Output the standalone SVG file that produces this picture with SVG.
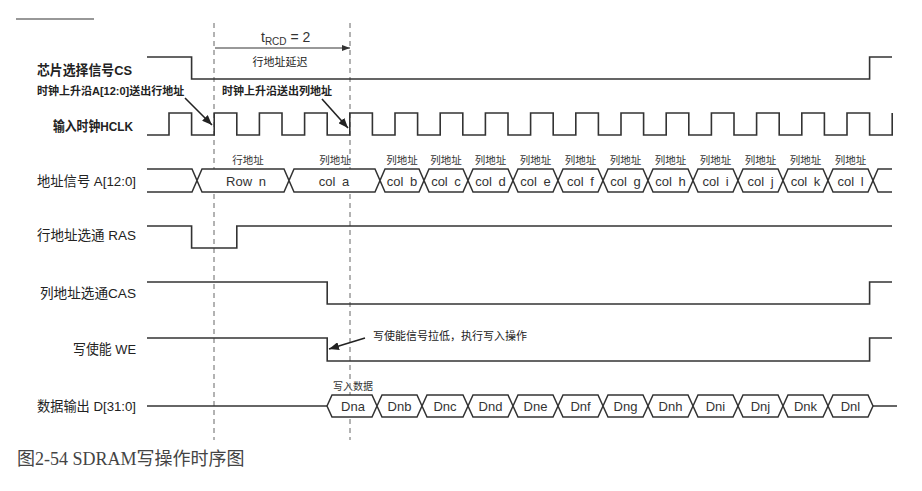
<svg xmlns="http://www.w3.org/2000/svg" width="922" height="491" viewBox="0 0 922 491">
<style>
.sig{fill:none;stroke:#333;stroke-width:1.6;stroke-linejoin:miter}
.bus{fill:#fff;stroke:#333;stroke-width:1.5;stroke-linejoin:miter}
.dash{stroke:#666;stroke-width:1;stroke-dasharray:5,4;fill:none}
.arr{stroke:#222;stroke-width:1.6;fill:none}
.lbl{font-family:"Liberation Sans","Noto Sans CJK SC",sans-serif;font-size:13.5px;fill:#222}
.ann{font-family:"Liberation Sans","Noto Sans CJK SC",sans-serif;font-size:11px;fill:#222}
.small{font-family:"Liberation Sans","Noto Sans CJK SC",sans-serif;font-size:10.5px;fill:#333;text-anchor:middle}
.val{font-family:"Liberation Sans","Noto Sans CJK SC",sans-serif;font-size:13px;fill:#333;text-anchor:middle}
.cap{font-family:"Liberation Serif","Noto Sans CJK SC",serif;font-size:18px;fill:#444}
</style>
<defs>
<marker id="ah" markerUnits="userSpaceOnUse" markerWidth="10" markerHeight="8" refX="10" refY="4" orient="auto">
<path d="M0,0 L10,4 L0,8 Z" fill="#222"/>
</marker>
<marker id="ahs" markerUnits="userSpaceOnUse" markerWidth="8" markerHeight="6" refX="8" refY="3" orient="auto">
<path d="M0,0 L8,3 L0,6 Z" fill="#333"/>
</marker>
</defs>
<rect width="922" height="491" fill="#fff"/>
<line x1="16" y1="19" x2="94" y2="19" stroke="#333" stroke-width="1.2"/>

<g id="guides">
<line class="dash" x1="214" y1="23" x2="214" y2="440"/>
<line class="dash" x1="350" y1="23" x2="350" y2="440"/>
</g>

<g id="trcd">
<line x1="215" y1="48" x2="350" y2="48" stroke="#333" stroke-width="1" marker-end="url(#ahs)"/>
<text class="val" x="261" y="42" style="text-anchor:start;font-size:14px">t<tspan font-size="10" dy="3">RCD</tspan><tspan dy="-3"> = 2</tspan></text>
<text class="ann" x="280" y="66" text-anchor="middle">行地址延迟</text>
</g>

<g id="cs">
<text class="lbl" x="37" y="75" textLength="95" lengthAdjust="spacingAndGlyphs" font-weight="bold">芯片选择信号CS</text>
<path class="sig" d="M147,57 H191.6 V79 H869.6 V57 H892"/>
</g>

<g id="hclk">
<text class="lbl" x="53" y="131" textLength="80" lengthAdjust="spacingAndGlyphs" font-weight="bold">输入时钟HCLK</text>
<path class="sig" d="M147,135 H169 V113 H191.6 V135 H214.2 V113 H236.8 V135 H259.4 V113 H282 V135 H304.6 V113 H327.2 V135 H349.8 V113 H372.4 V135 H395 V113 H417.6 V135 H440.2 V113 H462.8 V135 H485.4 V113 H508 V135 H530.6 V113 H553.2 V135 H575.8 V113 H598.4 V135 H621 V113 H643.6 V135 H666.2 V113 H688.8 V135 H711.4 V113 H734 V135 H756.6 V113 H779.2 V135 H801.8 V113 H824.4 V135 H847 V113 H869.6 V135 H892.2 V113"/>
</g>

<g id="addr">
<text class="lbl" x="37" y="186" textLength="99" lengthAdjust="spacingAndGlyphs">地址信号 A[12:0]</text>
<path class="bus" style="fill:none" d="M147,169 H192 L197,180.5 L192,192 H147"/>
<path class="bus" d="M197,180.5 L202,169 H284 L289,180.5 L284,192 H202 Z"/>
<path class="bus" d="M289,180.5 L294,169 H375 L380,180.5 L375,192 H294 Z"/>
<path class="bus" d="M380,180.5 L385,169 H419 L424,180.5 L419,192 H385 Z"/>
<path class="bus" d="M424,180.5 L429,169 H463 L468,180.5 L463,192 H429 Z"/>
<path class="bus" d="M468,180.5 L473,169 H508 L513,180.5 L508,192 H473 Z"/>
<path class="bus" d="M513,180.5 L518,169 H553 L558,180.5 L553,192 H518 Z"/>
<path class="bus" d="M558,180.5 L563,169 H598 L603,180.5 L598,192 H563 Z"/>
<path class="bus" d="M603,180.5 L608,169 H643 L648,180.5 L643,192 H608 Z"/>
<path class="bus" d="M648,180.5 L653,169 H688 L693,180.5 L688,192 H653 Z"/>
<path class="bus" d="M693,180.5 L698,169 H733 L738,180.5 L733,192 H698 Z"/>
<path class="bus" d="M738,180.5 L743,169 H778 L783,180.5 L778,192 H743 Z"/>
<path class="bus" d="M783,180.5 L788,169 H823 L828,180.5 L823,192 H788 Z"/>
<path class="bus" d="M828,180.5 L833,169 H868 L873,180.5 L868,192 H833 Z"/>
<path class="bus" style="fill:none" d="M892,169 H878 L873,180.5 L878,192 H892"/>
<g style="word-spacing:3px">
<text class="val" x="246" y="186">Row n</text>
<text class="val" x="334" y="186">col a</text>
<text class="val" x="402" y="186">col b</text>
<text class="val" x="446" y="186">col c</text>
<text class="val" x="490.5" y="186">col d</text>
<text class="val" x="535.5" y="186">col e</text>
<text class="val" x="580.5" y="186">col f</text>
<text class="val" x="625.5" y="186">col g</text>
<text class="val" x="670.5" y="186">col h</text>
<text class="val" x="715.5" y="186">col i</text>
<text class="val" x="760.5" y="186">col j</text>
<text class="val" x="805.5" y="186">col k</text>
<text class="val" x="850.5" y="186">col l</text>
</g>
<text class="small" x="248" y="164">行地址</text>
<text class="small" x="335" y="164">列地址</text>
<text class="small" x="402" y="164">列地址</text>
<text class="small" x="446" y="164">列地址</text>
<text class="small" x="490.5" y="164">列地址</text>
<text class="small" x="535.5" y="164">列地址</text>
<text class="small" x="580.5" y="164">列地址</text>
<text class="small" x="625.5" y="164">列地址</text>
<text class="small" x="670.5" y="164">列地址</text>
<text class="small" x="715.5" y="164">列地址</text>
<text class="small" x="760.5" y="164">列地址</text>
<text class="small" x="805.5" y="164">列地址</text>
<text class="small" x="850.5" y="164">列地址</text>
</g>

<g id="ras">
<text class="lbl" x="37" y="240" textLength="99" lengthAdjust="spacingAndGlyphs">行地址选通 RAS</text>
<path class="sig" d="M147,226 H191.6 V248 H236.8 V226 H892"/>
</g>

<g id="cas">
<text class="lbl" x="40" y="298" textLength="96" lengthAdjust="spacingAndGlyphs">列地址选通CAS</text>
<path class="sig" d="M147,282 H327.2 V304 H869.6 V282 H892"/>
</g>

<g id="we">
<text class="lbl" x="73" y="354" textLength="63" lengthAdjust="spacingAndGlyphs">写使能 WE</text>
<path class="sig" d="M147,338 H327.2 V361 H869.6 V338 H892"/>
</g>

<g id="data">
<text class="lbl" x="37" y="411" textLength="99" lengthAdjust="spacingAndGlyphs">数据输出 D[31:0]</text>
<path class="bus" style="fill:none" d="M147,406 H327"/>
<path class="bus" d="M327,406 L332,395 H372 L377,406 L372,417 H332 Z"/>
<path class="bus" d="M377,406 L382,395 H417 L422,406 L417,417 H382 Z"/>
<path class="bus" d="M422,406 L427,395 H463 L468,406 L463,417 H427 Z"/>
<path class="bus" d="M468,406 L473,395 H508 L513,406 L508,417 H473 Z"/>
<path class="bus" d="M513,406 L518,395 H553 L558,406 L553,417 H518 Z"/>
<path class="bus" d="M558,406 L563,395 H598 L603,406 L598,417 H563 Z"/>
<path class="bus" d="M603,406 L608,395 H643 L648,406 L643,417 H608 Z"/>
<path class="bus" d="M648,406 L653,395 H688 L693,406 L688,417 H653 Z"/>
<path class="bus" d="M693,406 L698,395 H733 L738,406 L733,417 H698 Z"/>
<path class="bus" d="M738,406 L743,395 H778 L783,406 L778,417 H743 Z"/>
<path class="bus" d="M783,406 L788,395 H823 L828,406 L823,417 H788 Z"/>
<path class="bus" d="M828,406 L833,395 H868 L873,406 L868,417 H833 Z"/>
<path class="bus" style="fill:none" d="M873,406 H897"/>
<text class="val" x="353" y="411">Dna</text>
<text class="val" x="399.5" y="411">Dnb</text>
<text class="val" x="445" y="411">Dnc</text>
<text class="val" x="490.5" y="411">Dnd</text>
<text class="val" x="535.5" y="411">Dne</text>
<text class="val" x="580.5" y="411">Dnf</text>
<text class="val" x="625.5" y="411">Dng</text>
<text class="val" x="670.5" y="411">Dnh</text>
<text class="val" x="715.5" y="411">Dni</text>
<text class="val" x="760.5" y="411">Dnj</text>
<text class="val" x="805.5" y="411">Dnk</text>
<text class="val" x="850.5" y="411">Dnl</text>
<text class="small" x="353" y="390" style="font-size:10px">写入数据</text>
</g>

<g id="annotations">
<text class="ann" x="37" y="95" font-weight="bold">时钟上升沿A[12:0]送出行地址</text>
<text class="ann" x="222" y="95" font-weight="bold">时钟上升沿送出列地址</text>
<text class="ann" x="373" y="340">写使能信号拉低，执行写入操作</text>
</g>

<g id="connectors">
<line class="arr" x1="185" y1="98" x2="212" y2="125" marker-end="url(#ah)"/>
<line class="arr" x1="322" y1="99" x2="348" y2="128" marker-end="url(#ah)"/>
<line class="arr" x1="365" y1="338" x2="329" y2="349" marker-end="url(#ah)"/>
</g>

<text class="cap" x="17" y="465">图2-54 SDRAM写操作时序图</text>
</svg>
